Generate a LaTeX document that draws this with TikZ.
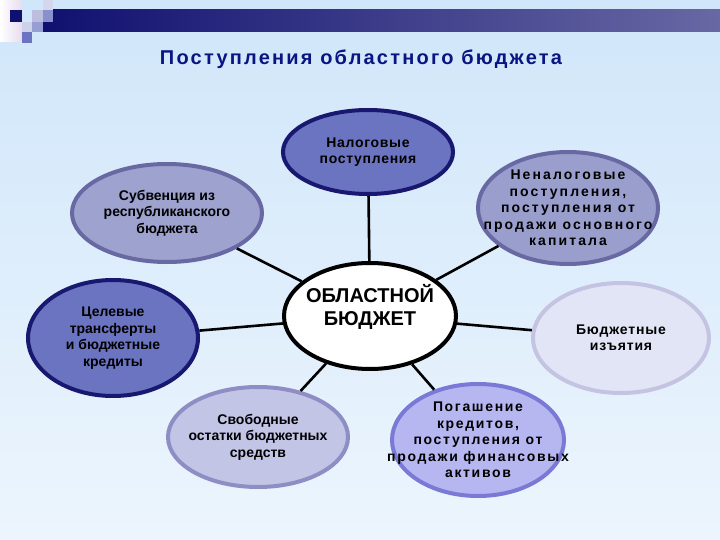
\documentclass[tikz,border=0pt]{standalone}
\usepackage{fontspec}
\setmainfont{Liberation Sans}
\usetikzlibrary{shapes.geometric, positioning}
\definecolor{colbgtop}{RGB}{208,230,250}
\definecolor{colbgbot}{RGB}{236,245,253}
\definecolor{colnavy}{RGB}{16,16,112}
\definecolor{colbarend}{RGB}{104,104,164}
\definecolor{coltitle}{RGB}{10,20,130}
\definecolor{coldark}{RGB}{24,24,112}
\definecolor{col1}{RGB}{106,116,192}
\definecolor{col2}{RGB}{158,162,206}
\definecolor{col2b}{RGB}{104,104,162}
\definecolor{col3}{RGB}{226,229,246}
\definecolor{col3b}{RGB}{196,196,226}
\definecolor{col4}{RGB}{194,197,230}
\definecolor{col4b}{RGB}{142,142,196}
\definecolor{col5}{RGB}{182,182,240}
\definecolor{col5b}{RGB}{122,122,214}

\begin{document}
\begin{tikzpicture}[x=1pt, y=-1pt,
  oval/.style={ellipse, draw, line width=4pt, inner xsep=-40pt, inner ysep=-20pt,
               align=center, font=\bfseries\fontsize{14}{16.5}\selectfont},
  spaced/.style={font=\bfseries\fontsize{14}{16.5}\selectfont\addfontfeature{LetterSpace=#1}},
  taxoval/.style={oval, draw=coldark, fill=col1},
  conn/.style={line width=2.6pt, black}
]
% Background and top decoration
\useasboundingbox (0,0) rectangle (720,540);
\shade[top color=colbgtop, bottom color=colbgbot] (0,0) rectangle (720,540);
\shade[left color=white, right color=colbgtop!60!violet!30] (0,0) rectangle (22,42);
\shade[left color=colnavy, right color=colbarend] (43,10) rectangle (720,32);
\fill[colnavy] (10,10) rectangle (22,22);
\fill[col2!70!white] (32,10) rectangle (43,22);
\fill[col3!80!col2] (43,0) rectangle (53,10);
\fill[col1!80!white] (43,10) rectangle (53,22);
\fill[col3!70!col2] (22,22) rectangle (32,32);
\fill[col1!70!white] (32,22) rectangle (43,32);
\fill[col1] (22,32) rectangle (32,43);

% Title
\node[font=\bfseries\fontsize{20}{22}\selectfont\addfontfeature{LetterSpace=11},
      text=coltitle] (title) at (361,59)
    {Поступления областного бюджета};

% Centre
\node[oval, draw=black, fill=white, minimum width=172, minimum height=106,
      font=\bfseries\fontsize{20}{23}\selectfont] (bud) at (370,316)
    {ОБЛАСТНОЙ\\БЮДЖЕТ\\\mbox{}};

% Sources around the centre
\node[taxoval, spaced=5, minimum width=170, minimum height=84] (nal) at (368,152)
    {Налоговые\\поступления};
\node[oval, draw=col2b, fill=col2, minimum width=190, minimum height=98] (subv) at (167,213)
    {Субвенция из\\республиканского\\бюджета};
\node[oval, spaced=15, draw=col2b, fill=col2!92!col1, minimum width=180, minimum height=112] (nenal) at (568,208)
    {Неналоговые\\поступления,\\поступления от\\продажи основного\\капитала};
\node[taxoval, minimum width=170, minimum height=116] (cel) at (113,338)
    {Целевые\\трансферты\\и бюджетные\\кредиты};
\node[oval, spaced=6, draw=col3b, fill=col3, minimum width=176, minimum height=110] (izyat) at (621,338)
    {Бюджетные\\изъятия};
\node[oval, draw=col4b, fill=col4, minimum width=180, minimum height=100] (svob) at (258,437)
    {Свободные\\остатки бюджетных\\средств};
\node[oval, spaced=12, draw=col5b, fill=col5, minimum width=172, minimum height=112] (pogash) at (478,440)
    {Погашение\\кредитов,\\поступления от\\продажи финансовых\\активов};

% Connectors
\draw[conn] (nal) -- (bud);
\draw[conn] (subv) -- (bud);
\draw[conn] (nenal) -- (bud);
\draw[conn] (cel) -- (bud);
\draw[conn] (izyat) -- (bud);
\draw[conn] (svob) -- (bud);
\draw[conn] (pogash) -- (bud);
\end{tikzpicture}
\end{document}
